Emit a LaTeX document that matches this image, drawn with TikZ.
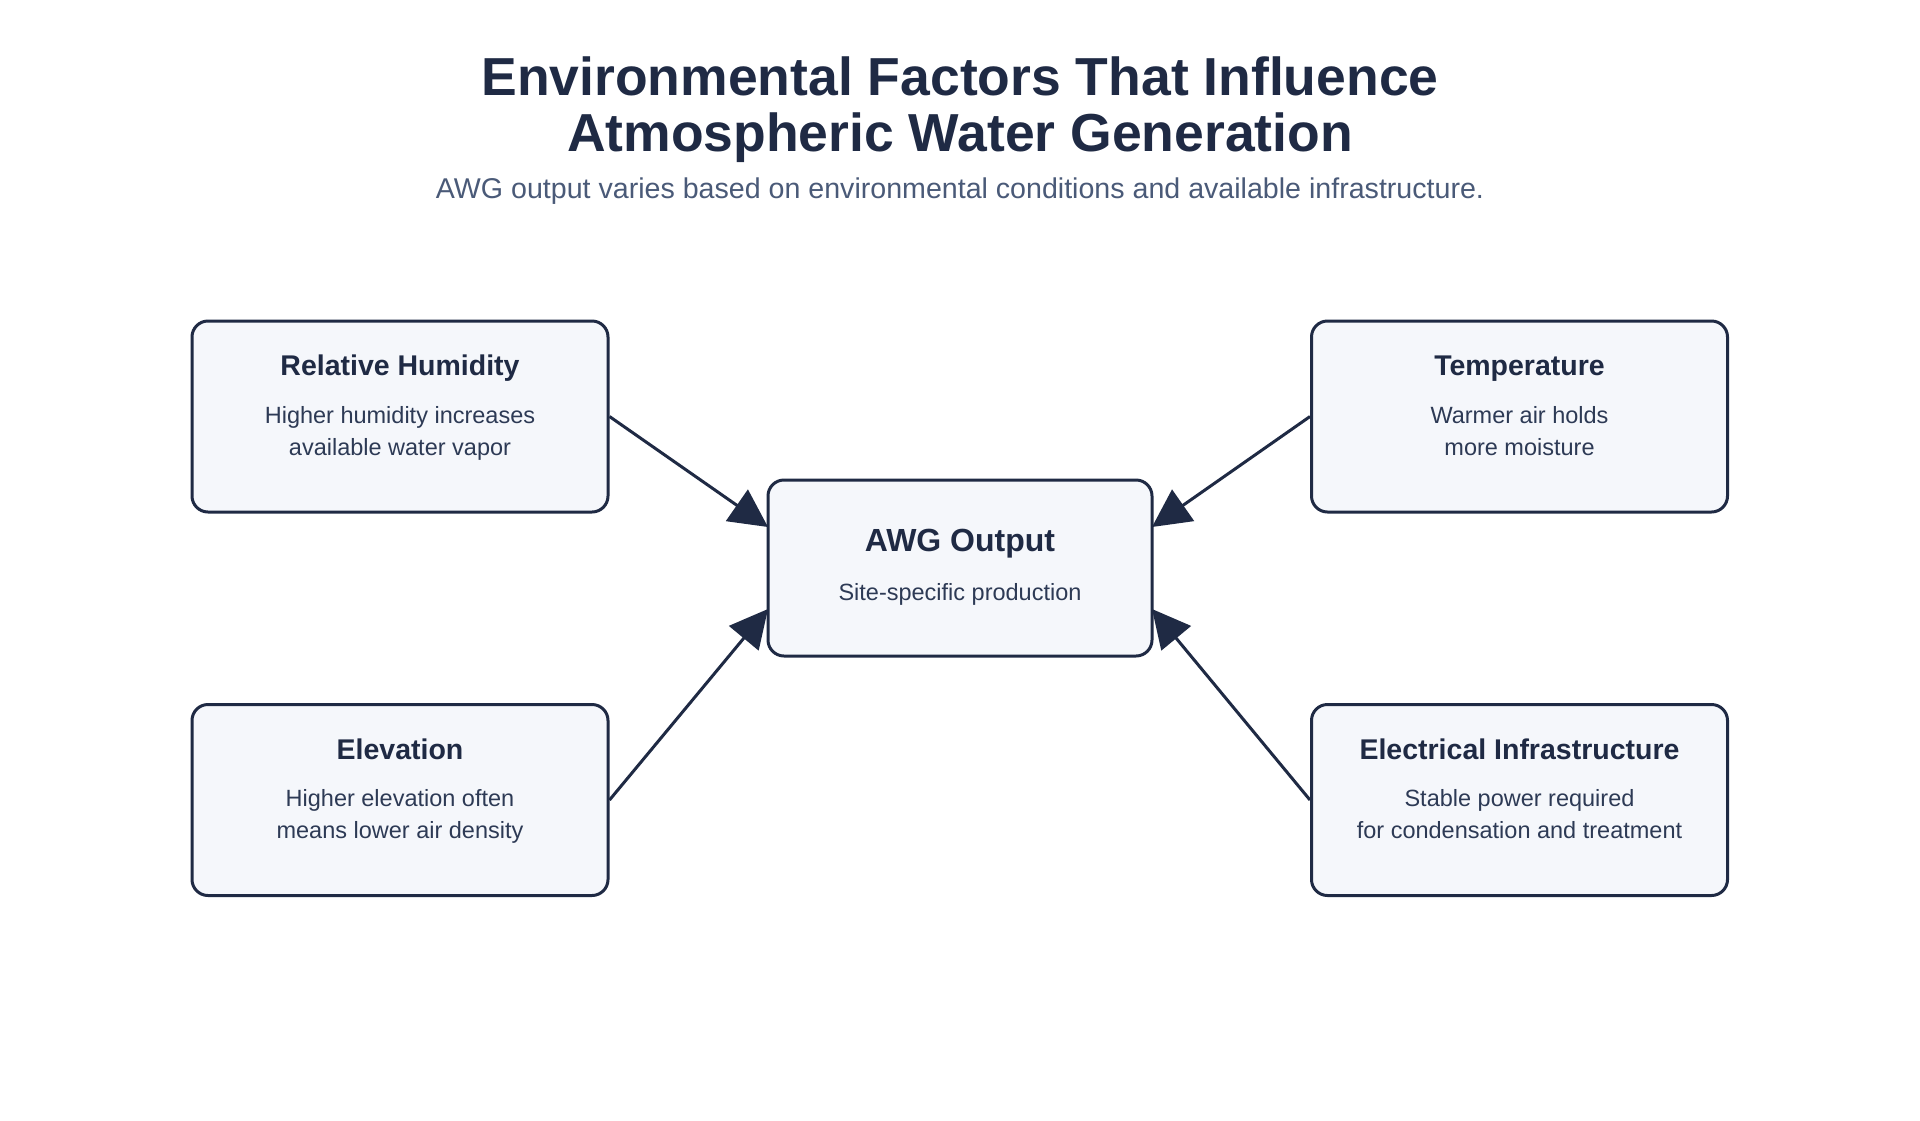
\documentclass[tikz,border=0pt]{standalone}
\usepackage{fontspec}
\setmainfont{Liberation Sans}
\usetikzlibrary{arrows.meta}
\definecolor{navy}{HTML}{1F2A44}
\definecolor{boxfill}{HTML}{F5F7FB}
\definecolor{subgray}{HTML}{4A5A78}
\definecolor{desccol}{HTML}{2D3A55}
\tikzset{
  factorbox/.style={draw=navy, line width=3pt, fill=boxfill, rounded corners=16pt, minimum width=416pt, minimum height=191pt, inner sep=0pt},
  centerbox/.style={draw=navy, line width=3pt, fill=boxfill, rounded corners=16pt, minimum width=384pt, minimum height=176pt, inner sep=0pt},
  boxtitle/.style={text=navy, font=\fontsize{28.5}{32}\selectfont\bfseries, inner sep=0pt, anchor=base},
  boxdesc/.style={text=desccol, font=\fontsize{23.5}{32}\selectfont, inner sep=0pt, anchor=base},
  flow/.style={draw=navy, line width=3pt, -{Triangle[length=38pt,width=38pt]}}
}
\begin{document}
\begin{tikzpicture}[x=1pt,y=-1pt]
\useasboundingbox (0,0) rectangle (1920,1120);
\fill[white] (0,0) rectangle (1920,1120);
% title
\node[text=navy, font=\fontsize{53.5}{56}\selectfont\bfseries, inner sep=0pt, anchor=base] (t1) at (960,95) {Environmental Factors That Influence};
\node[text=navy, font=\fontsize{53.5}{56}\selectfont\bfseries, inner sep=0pt, anchor=base] (t2) at (960,151.7) {Atmospheric Water Generation};
\node[text=subgray, font=\fontsize{28.6}{30}\selectfont, inner sep=0pt, anchor=base] (sub) at (960,198.3) {AWG output varies based on environmental conditions and available infrastructure.};
% boxes
\node[factorbox] (rh) at (400,416.5) {};
\node[factorbox] (tp) at (1519.5,416.5) {};
\node[factorbox] (el) at (400,800) {};
\node[factorbox] (ei) at (1519.5,800) {};
\node[centerbox] (awg) at (960,568) {};
% texts
\node[boxtitle] (rht) at (400,375.7) {Relative Humidity};
\node[boxdesc] (rhd1) at (400,423) {Higher humidity increases};
\node[boxdesc] (rhd2) at (400,455) {available water vapor};
\node[boxtitle] (tpt) at (1519.5,375.7) {Temperature};
\node[boxdesc] (tpd1) at (1519.5,423) {Warmer air holds};
\node[boxdesc] (tpd2) at (1519.5,455) {more moisture};
\node[boxtitle] (elt) at (400,759.2) {Elevation};
\node[boxdesc] (eld1) at (400,806.5) {Higher elevation often};
\node[boxdesc] (eld2) at (400,838.5) {means lower air density};
\node[boxtitle] (eit) at (1519.5,759.2) {Electrical Infrastructure};
\node[boxdesc] (eid1) at (1519.5,806.5) {Stable power required};
\node[boxdesc] (eid2) at (1519.5,838.5) {for condensation and treatment};
\node[boxtitle, font=\fontsize{32}{36}\selectfont\bfseries] (awgt) at (960,551.7) {AWG Output};
\node[boxdesc] (awgd) at (960,600) {Site-specific production};
% connector endpoints
\coordinate (inL1) at (768,527);
\coordinate (inR1) at (1152,527);
\coordinate (inL2) at (768,609);
\coordinate (inR2) at (1152,609);
\draw[flow] (rh.east) -- (inL1);
\draw[flow] (tp.west) -- (inR1);
\draw[flow] (el.east) -- (inL2);
\draw[flow] (ei.west) -- (inR2);
\end{tikzpicture}
\end{document}
